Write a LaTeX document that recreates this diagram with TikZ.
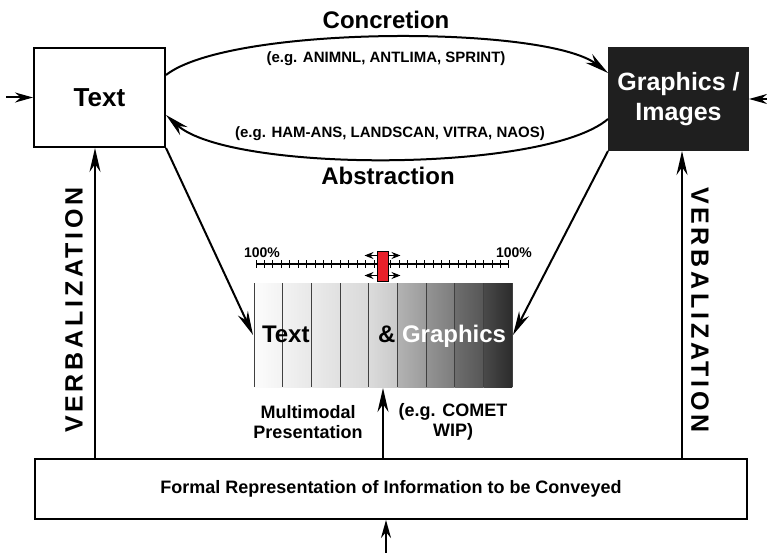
\documentclass[tikz,border=0pt]{standalone}
\usepackage{fontspec}
\setmainfont{Liberation Sans}
\newfontfamily\spacedfont[LetterSpace=15]{Liberation Sans}
\usetikzlibrary{positioning, arrows.meta}

\definecolor{sliderred}{HTML}{E8202A}

\tikzset{
  box/.style={draw, rectangle, line width=2pt, inner sep=0pt},
  big/.style={font=\bfseries\fontsize{24}{28}\selectfont},
  mid/.style={font=\bfseries\fontsize{18}{20}\selectfont, align=center},
  small/.style={font=\bfseries\fontsize{15}{18}\selectfont},
  vert/.style={font=\spacedfont\bfseries\fontsize{25}{30}\selectfont},
  arrow/.style={-{Stealth[length=24pt, width=11pt]}},
  inarrow/.style={-{Stealth[length=18pt, width=10pt]}},
  tinyarrow/.style={-{Stealth[length=9pt, width=7pt]}, line width=1pt},
}

\begin{document}
\begin{tikzpicture}[x=1pt, y=-1pt, line width=2pt]
\useasboundingbox (0,0) rectangle (767,553);

\node (text) [box, minimum width=131pt, minimum height=99pt, font=\bfseries\fontsize{26}{30}\selectfont] at (99.5,97.5) {Text};
\node (graphics) [fill=black!88, draw=black!88, text=white, minimum width=139pt, minimum height=102pt, align=center, font=\bfseries\fontsize{25}{30}\selectfont] at (678.5,99) {Graphics /\\Images};
\node (formal) [box, minimum width=712pt, minimum height=60pt, font=\bfseries\fontsize{18}{20}\selectfont] at (391,489) {Formal Representation of Information to be Conveyed};
\node (bar) [minimum width=258pt, minimum height=104pt, inner sep=0pt] at (383,335) {};

% mixed text / graphics scale
\foreach \a/\b [count=\i from 0] in {99/95, 95/91, 92/88, 89/85, 86/79, 70/61, 58/49, 43/34, 29/17}
  \shade[left color=white!\a!black, right color=white!\b!black] ({254+\i*28.667},283) rectangle ({254+(\i+1)*28.667},387);
\foreach \i in {0,...,9}
  \draw[line width=1pt, black!75] ({254+\i*28.667},283) -- ({254+\i*28.667},387);
\node (mixtext) [big, anchor=base west, inner sep=0pt] at (261,342) {Text};
\node (mixgraph) [big, anchor=base west, inner sep=0pt] at (377,342) {\& \textcolor{white}{Graphics}};

% ruler with slider
\draw[line width=1.5pt] (256,264) -- (509,264);
\foreach \i in {0,...,30}
  \draw[line width=1pt] ({256+\i*8.433},260) -- ({256+\i*8.433},268);
\node (pleft) [font=\bfseries\fontsize{14}{16}\selectfont] at (262,253) {100\%};
\node (pright) [font=\bfseries\fontsize{14}{16}\selectfont] at (514,253) {100\%};
\node (slider) [draw, fill=sliderred, line width=1pt, minimum width=11pt, minimum height=30pt, inner sep=0pt] at (382.5,266) {};
\draw[tinyarrow] ([yshift=-5pt]slider.north west) -- +(-12,0);
\draw[tinyarrow] ([yshift=-5pt]slider.north east) -- +(12,0);
\draw[tinyarrow] ([yshift=6pt]slider.south west) -- +(-12,0);
\draw[tinyarrow] ([yshift=6pt]slider.south east) -- +(12,0);

\node (concretion) [big] at (386,20) {Concretion};
\node (concreg) [small] at (386,59) {(e.g. ANIMNL, ANTLIMA, SPRINT)};
\node (abstreg) [small] at (390,134) {(e.g. HAM-ANS, LANDSCAN, VITRA, NAOS)};
\node (abstraction) [big] at (388,176) {Abstraction};

\node (verbleft) [vert, rotate=90] at (74,310) {VERBALIZATION};
\node (verbright) [vert, rotate=-90] at (700,310) {VERBALIZATION};
\node (multimodal) [mid] at (308,422) {Multimodal\\Presentation};
\node (cometeg) [mid] at (453,422) {(e.g. COMET\\WIP)};

\coordinate (textin) at (6,97.5);
\coordinate (graphin) at (767,99);
\coordinate (formalin) at (386,553);
\coordinate (vleft) at ([xshift=-4.5pt]text.south);
\coordinate (vright) at ([xshift=3.5pt]graphics.south);

\draw[arrow] ([yshift=22.5pt]text.east) .. controls (230,25) and (545,25) .. ([yshift=26pt]graphics.west);
\draw[arrow] ([yshift=-20pt]graphics.west) .. controls (545,173) and (230,173) .. ([yshift=-17.5pt]text.east);
\draw[arrow] (text.south east) -- (bar.west);
\draw[arrow] (graphics.south west) -- (bar.east);
\draw[arrow] (formal.north -| vleft) -- (vleft);
\draw[arrow] (formal.north -| vright) -- (vright);
\draw[arrow] (formal.north -| bar.south) -- (bar.south);
\draw[inarrow] (textin) -- (text.west);
\draw[inarrow] (graphin) -- (graphics.east);
\draw[inarrow] (formalin) -- (formalin |- formal.south);

\end{tikzpicture}
\end{document}
